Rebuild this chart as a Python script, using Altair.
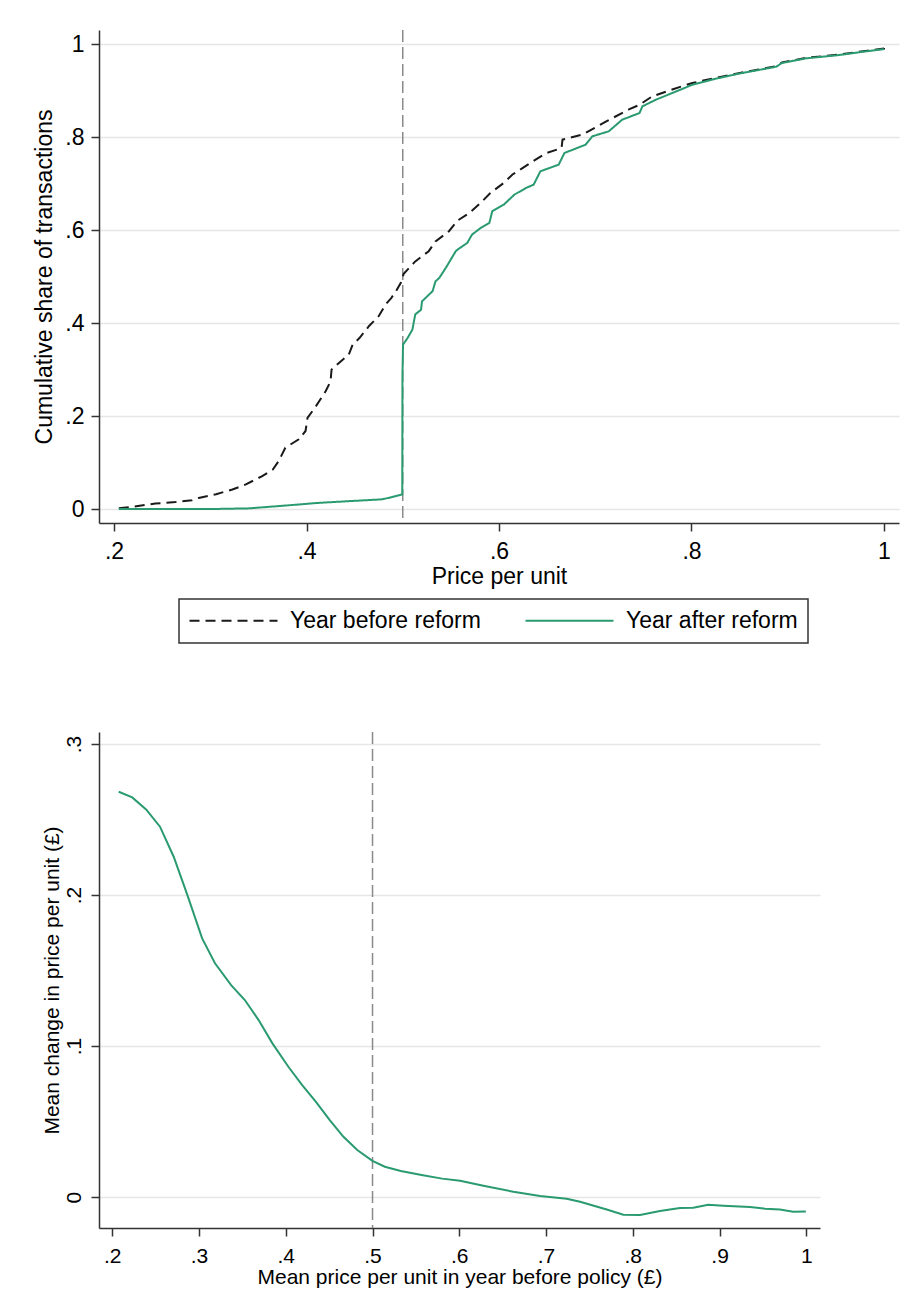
import altair as alt
import pandas as pd

# ---------------- data: top panel (cumulative distributions) ----------------
series_names = ["Year before reform", "Year after reform"]

x_before = [0.205, 0.219, 0.243, 0.264, 0.281, 0.288, 0.306, 0.323, 0.337, 0.354,
            0.365, 0.371, 0.378, 0.392, 0.399, 0.401, 0.410, 0.420, 0.425, 0.426,
            0.434, 0.444, 0.448, 0.455, 0.465, 0.475, 0.482, 0.488, 0.493, 0.498,
            0.501, 0.513, 0.527, 0.534, 0.548, 0.557, 0.569, 0.581, 0.591, 0.605,
            0.614, 0.638, 0.649, 0.665, 0.666, 0.687, 0.711, 0.735, 0.746, 0.759,
            0.780, 0.801, 0.825, 0.849, 0.870, 0.888, 0.894, 0.919, 0.953, 0.981,
            1.0, 1.0]
y_before = [0.0015, 0.005, 0.012, 0.015, 0.019, 0.024, 0.032, 0.042, 0.053, 0.071,
            0.085, 0.103, 0.132, 0.150, 0.168, 0.196, 0.222, 0.254, 0.275, 0.300,
            0.315, 0.333, 0.354, 0.368, 0.394, 0.415, 0.440, 0.454, 0.469, 0.487,
            0.5065, 0.533, 0.555, 0.576, 0.598, 0.621, 0.637, 0.659, 0.680, 0.702,
            0.720, 0.752, 0.766, 0.777, 0.795, 0.806, 0.834, 0.860, 0.870, 0.888,
            0.903, 0.917, 0.928, 0.938, 0.946, 0.953, 0.961, 0.971, 0.978, 0.986,
            0.991, 1.0]

x_after = [0.205, 0.300, 0.340, 0.375, 0.410, 0.444, 0.479, 0.489, 0.4995, 0.4997,
           0.5003, 0.505, 0.510, 0.513, 0.519, 0.520, 0.531, 0.534, 0.538, 0.545,
           0.555, 0.557, 0.567, 0.572, 0.581, 0.590, 0.593, 0.605, 0.616, 0.628,
           0.636, 0.643, 0.662, 0.668, 0.690, 0.697, 0.714, 0.728, 0.746, 0.749,
           0.763, 0.780, 0.801, 0.825, 0.849, 0.870, 0.888, 0.894, 0.919, 0.953,
           0.981, 1.0]
y_after = [0.0, 0.0, 0.0015, 0.007, 0.013, 0.017, 0.021, 0.026, 0.0315, 0.29,
           0.354, 0.368, 0.386, 0.419, 0.429, 0.447, 0.469, 0.490, 0.4975, 0.520,
           0.5548, 0.5585, 0.5727, 0.5907, 0.605, 0.616, 0.6409, 0.6552, 0.6767, 0.691,
           0.6982, 0.7269, 0.7412, 0.7663, 0.7842, 0.8022, 0.8129, 0.838, 0.8523, 0.8667,
           0.881, 0.8953, 0.9133, 0.926, 0.937, 0.945, 0.952, 0.960, 0.970, 0.977,
           0.985, 0.990]

# ---------------- data: bottom panel (mean change) ----------------
x_mean_price = [0.2074, 0.223, 0.239, 0.255, 0.2708, 0.2866, 0.3036, 0.3184, 0.337, 0.3528,
                0.3687, 0.3846, 0.403, 0.4189, 0.4348, 0.4507, 0.4665, 0.4824, 0.4999, 0.5142,
                0.5326, 0.5565, 0.5802, 0.6009, 0.6278, 0.6623, 0.6931, 0.7238, 0.7392, 0.77,
                0.7891, 0.8083, 0.8313, 0.8544, 0.8697, 0.887, 0.9043, 0.935, 0.9523, 0.9696,
                0.9849, 0.9995]
y_mean_change = [0.2684, 0.2647, 0.2567, 0.2453, 0.2254, 0.2, 0.1713, 0.1548, 0.1404, 0.1305,
                 0.1172, 0.1018, 0.0863, 0.0742, 0.0631, 0.051, 0.0399, 0.0311, 0.024, 0.0201,
                 0.0172, 0.0146, 0.0122, 0.0108, 0.0075, 0.0035, 0.0007, -0.0011, -0.0031, -0.0082,
                 -0.0117, -0.0119, -0.0093, -0.0073, -0.0071, -0.0051, -0.0057, -0.0066, -0.0077, -0.0082,
                 -0.0097, -0.0095]

reform_threshold = [0.5]

top_x_ticks = [0.2, 0.4, 0.6, 0.8, 1.0]
top_y_ticks = [0.0, 0.2, 0.4, 0.6, 0.8, 1.0]
bot_x_ticks = [0.2, 0.3, 0.4, 0.5, 0.6, 0.7, 0.8, 0.9, 1.0]
bot_y_ticks = [0.0, 0.1, 0.2, 0.3]

GREEN = "#2a9a70"
DARK = "#1a1a1a"
FONT = "Liberation Sans"

label_expr = ("abs(datum.value) < 1e-9 ? '0' : datum.value > 0.999 ? '1' : "
              "slice(format(datum.value, '.1f'), 1)")

df_top = pd.concat([
    pd.DataFrame({"price": x_before, "share": y_before,
                  "series": series_names[0], "idx": range(len(x_before))}),
    pd.DataFrame({"price": x_after, "share": y_after,
                  "series": series_names[1], "idx": range(len(x_after))}),
], ignore_index=True)

df_bot = pd.DataFrame({"price": x_mean_price, "change": y_mean_change,
                       "idx": range(len(x_mean_price))})
df_rule = pd.DataFrame({"x": reform_threshold})

# ---------------- top panel ----------------
TW, TH = 800, 493
xs_top = alt.Scale(domain=[0.1844, 1.0156], nice=False, zero=False)
ys_top = alt.Scale(domain=[-0.030, 1.031], nice=False, zero=False)

legend_common = dict(
    title=None, orient="none", legendX=80, legendY=569, direction="horizontal",
    symbolType="M-2,0L14,0", symbolSize=121, symbolStrokeWidth=2,
    labelFont=FONT, labelFontSize=23, labelColor="black", labelLimit=400,
    labelOffset=78, columnPadding=40, padding=10, strokeColor="#333333",
)

lines_top = alt.Chart(df_top).mark_line(strokeWidth=2).encode(
    x=alt.X("price:Q", scale=xs_top, title="Price per unit",
            axis=alt.Axis(values=top_x_ticks, labelExpr=label_expr, grid=False,
                          titlePadding=2)),
    y=alt.Y("share:Q", scale=ys_top, title="Cumulative share of transactions",
            axis=alt.Axis(values=top_y_ticks, labelExpr=label_expr, grid=True)),
    color=alt.Color("series:N", scale=alt.Scale(domain=series_names, range=[DARK, GREEN]),
                    legend=alt.Legend(**legend_common)),
    strokeDash=alt.StrokeDash("series:N",
                              scale=alt.Scale(domain=series_names, range=[[10, 6], [1, 0]]),
                              legend=alt.Legend(**legend_common)),
    order="idx:Q",
)

rule_top = alt.Chart(df_rule).mark_rule(color="#8a8a8a", strokeWidth=1.5, strokeDash=[12, 5]).encode(
    x=alt.X("x:Q", scale=xs_top),
    y=alt.value(0), y2=alt.value(TH),
)

top = alt.layer(rule_top, lines_top).properties(width=TW, height=TH)

# ---------------- bottom panel ----------------
BW, BH = 721, 496
xs_bot = alt.Scale(domain=[0.1847, 1.0158], nice=False, zero=False)
ys_bot = alt.Scale(domain=[-0.0205, 0.308], nice=False, zero=False)

line_bot = alt.Chart(df_bot).mark_line(strokeWidth=2, color=GREEN).encode(
    x=alt.X("price:Q", scale=xs_bot, title="Mean price per unit in year before policy (£)",
            axis=alt.Axis(values=bot_x_ticks, labelExpr=label_expr, grid=False,
                          labelFontSize=21, titleFontSize=21, titlePadding=0)),
    y=alt.Y("change:Q", scale=ys_bot, title="Mean change in price per unit (£)",
            axis=alt.Axis(values=bot_y_ticks, labelExpr=label_expr, grid=True,
                          labelFontSize=21, titleFontSize=21, labelAngle=270,
                          labelAlign="center", labelBaseline="bottom", titlePadding=1)),
    order="idx:Q",
)

rule_bot = alt.Chart(df_rule).mark_rule(color="#8a8a8a", strokeWidth=1.5, strokeDash=[12, 5]).encode(
    x=alt.X("x:Q", scale=xs_bot),
    y=alt.value(0), y2=alt.value(BH),
)

bottom = alt.layer(rule_bot, line_bot).properties(width=BW, height=BH)

chart = alt.vconcat(top, bottom, spacing=143).properties(
    padding={"left": 25, "top": 21, "right": 5, "bottom": 5}
).configure_view(stroke=None).configure_axis(
    domainColor="#333333", domainWidth=1.5,
    tickColor="#333333", tickWidth=1.5, tickSize=8,
    gridColor="#e6e6e6", gridWidth=1.5,
    labelFont=FONT, labelFontSize=23, labelColor="black", labelPadding=7,
    titleFont=FONT, titleFontSize=23, titleFontWeight="normal", titleColor="black",
    titlePadding=8,
).configure_axisX(labelPadding=9).configure_legend(strokeWidth=1.5)

chart.save("out.html", embed_options={"renderer": "svg", "actions": False})
